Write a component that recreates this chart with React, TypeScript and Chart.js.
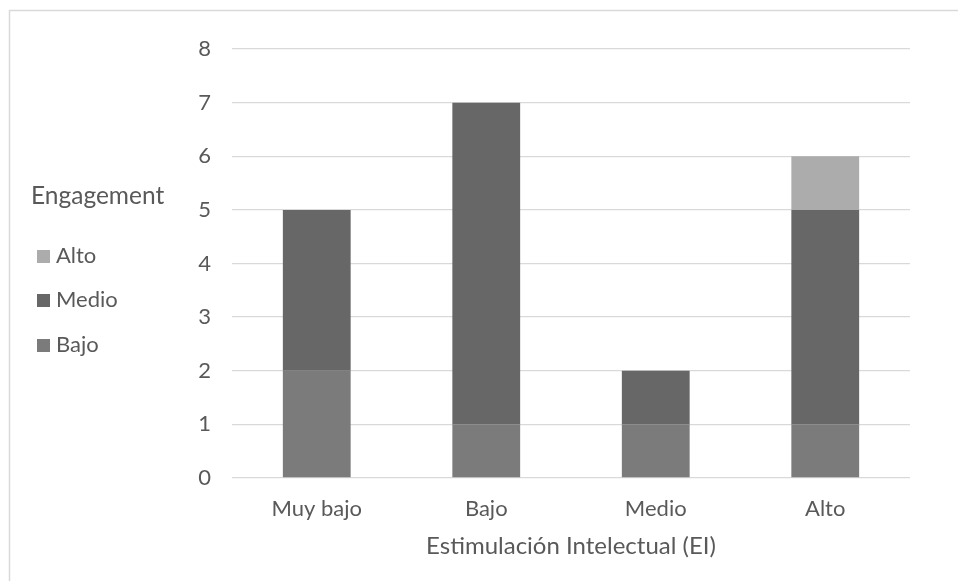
import React, { useEffect, useRef } from "react";
import { Chart, registerables } from "chart.js";

Chart.register(...registerables);

const categories = ["Muy bajo", "Bajo", "Medio", "Alto"];
const bajoValues = [2, 1, 1, 1];
const medioValues = [3, 6, 1, 4];
const altoValues = [0, 0, 0, 1];
const yTicks = [0, 1, 2, 3, 4, 5, 6, 7, 8];
const legendTitle = "Engagement";
const xTitle = "Estimulación Intelectual (EI)";

const FONT = "Lato, 'Noto Sans', sans-serif";
const TEXT = "#595959";

const framePlugin = {
  id: "frame",
  beforeDraw(chart: any) {
    const ctx = chart.ctx;
    ctx.save();
    ctx.fillStyle = "#ffffff";
    ctx.fillRect(0, 0, chart.width, chart.height);
    ctx.strokeStyle = "#d9d9d9";
    ctx.lineWidth = 1.5;
    ctx.beginPath();
    ctx.moveTo(9.5, chart.height + 5);
    ctx.lineTo(9.5, 10.5);
    ctx.lineTo(chart.width + 5, 10.5);
    ctx.stroke();
    ctx.restore();
  },
  afterDraw(chart: any) {
    const ctx = chart.ctx;
    ctx.save();
    ctx.fillStyle = TEXT;
    ctx.textBaseline = "middle";
    ctx.textAlign = "left";
    ctx.font = `24.5px ${FONT}`;
    ctx.fillText(legendTitle, 31, 196);
    const ds = chart.data.datasets.slice().reverse();
    const ys = [256, 300, 345];
    ds.forEach((d: any, i: number) => {
      const y = ys[i];
      ctx.fillStyle = d.backgroundColor;
      ctx.fillRect(37, y - 6, 13, 13);
      ctx.fillStyle = TEXT;
      ctx.font = `22px ${FONT}`;
      ctx.fillText(d.label, 56, y);
    });
    ctx.restore();
  },
};

export default function App() {
  const ref = useRef<HTMLCanvasElement | null>(null);
  useEffect(() => {
    if (!ref.current) return;
    const chart = new Chart(ref.current, {
      type: "bar",
      data: {
        labels: categories,
        datasets: [
          { label: "Bajo", data: bajoValues, backgroundColor: "#7b7b7b" },
          { label: "Medio", data: medioValues, backgroundColor: "#676767" },
          { label: "Alto", data: altoValues, backgroundColor: "#acacac" },
        ],
      },
      options: {
        animation: false,
        responsive: false,
        devicePixelRatio: 1,
        layout: { padding: { top: 49, right: 48, bottom: 0, left: 0 } },
        datasets: {
          bar: { categoryPercentage: 1, barPercentage: 0.4, borderWidth: 0 },
        },
        plugins: {
          legend: { display: false },
          tooltip: { enabled: false },
        },
        scales: {
          x: {
            stacked: true,
            grid: { display: false },
            border: { display: false },
            ticks: { color: TEXT, font: { family: FONT, size: 22 }, padding: 10 },
            title: {
              display: true,
              text: xTitle,
              color: TEXT,
              font: { family: FONT, size: 24 },
              padding: { top: 0, bottom: 20 },
            },
            afterFit: (s: any) => {
              s.height = 103;
            },
          },
          y: {
            stacked: true,
            min: yTicks[0],
            max: yTicks[yTicks.length - 1],
            grid: { color: "#d9d9d9", lineWidth: 1.3, drawTicks: false },
            border: { display: false },
            afterBuildTicks: (s: any) => {
              s.ticks = yTicks.map((v) => ({ value: v }));
            },
            ticks: { color: TEXT, font: { family: FONT, size: 22 }, padding: 21 },
            afterFit: (s: any) => {
              s.width = 232;
            },
          },
        },
      },
      plugins: [framePlugin],
    });
    return () => chart.destroy();
  }, []);
  return (
    <div style={{ position: "fixed", left: 0, top: 0, width: 958, height: 581 }}>
      <canvas ref={ref} width={958} height={581} style={{ display: "block" }} />
    </div>
  );
}
